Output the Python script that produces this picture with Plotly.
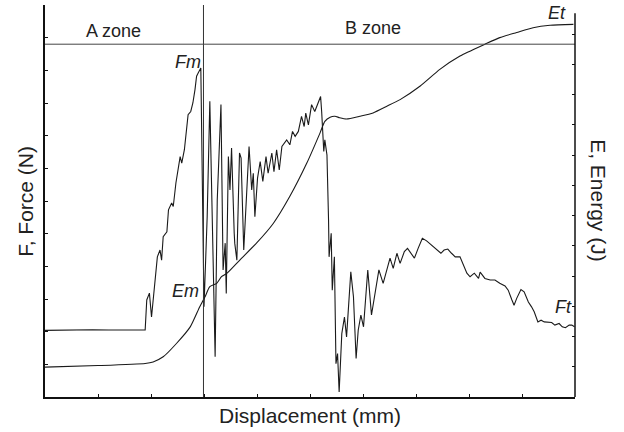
import plotly.graph_objects as go

# Force curve (left axis)
force_x = [0.00, 0.30, 0.60, 0.90, 1.20, 1.50, 1.89, 1.92, 1.97, 2.01, 2.06, 2.12, 2.17, 2.20, 2.23, 2.30,
           2.33, 2.39, 2.42, 2.47, 2.55, 2.58, 2.63, 2.67, 2.70, 2.75, 2.79, 2.83, 2.86, 2.89, 2.94,
           3.00, 3.06, 3.11, 3.21, 3.25, 3.32, 3.36, 3.40, 3.42, 3.46, 3.49, 3.52, 3.57, 3.58, 3.62,
           3.67, 3.70, 3.75, 3.85, 3.90, 3.93, 3.96, 4.01, 4.06, 4.11, 4.17, 4.21, 4.28, 4.32, 4.37,
           4.42, 4.47, 4.56, 4.62, 4.67, 4.72, 4.78, 4.84, 4.89, 4.92, 4.97, 5.03, 5.09, 5.18, 5.20,
           5.22, 5.24, 5.26, 5.28, 5.32, 5.35, 5.36, 5.40, 5.42, 5.46, 5.49, 5.52, 5.55, 5.60, 5.65,
           5.69, 5.77, 5.82, 5.87, 5.91, 5.96, 6.01, 6.09, 6.16, 6.30, 6.38, 6.47, 6.51, 6.57, 6.64,
           6.70, 6.78, 6.84, 6.92, 6.97, 7.04, 7.12, 7.20, 7.33, 7.47, 7.53, 7.60, 7.67, 7.74, 7.83,
           7.96, 8.02, 8.10, 8.18, 8.21, 8.30, 8.40, 8.49, 8.58, 8.68, 8.74, 8.81, 8.85, 8.90, 8.98,
           9.04, 9.12, 9.18, 9.23, 9.30, 9.36, 9.42, 9.50, 9.56, 9.62, 9.70, 9.76, 9.82, 9.89, 9.94, 9.99]
force_y = [2.04, 2.05, 2.04, 2.06, 2.05, 2.06, 2.05, 2.97, 3.18, 2.45, 3.27, 4.29, 4.50, 4.19, 4.91, 5.06,
           5.73, 5.94, 5.83, 6.55, 7.36, 7.16, 7.57, 8.18, 8.64, 8.74, 9.00, 9.41, 9.82, 9.92, 10.07,
           2.76, 5.52, 9.05, 1.23, 6.03, 8.95, 3.89, 4.71, 3.17, 7.36, 6.34, 7.62, 5.01, 4.71, 4.19,
           7.47, 7.31, 4.50, 7.67, 6.34, 6.85, 5.52, 6.70, 7.21, 6.60, 7.36, 6.85, 7.47, 6.90, 7.57,
           6.95, 7.67, 7.87, 7.72, 8.13, 7.98, 8.13, 8.59, 8.28, 8.69, 8.33, 8.95, 8.74, 9.10, 9.20,
           8.74, 8.13, 7.52, 7.87, 7.41, 5.42, 4.29, 5.01, 3.27, 4.29, 1.02, 1.33, 0.15, 1.94, 2.45,
           1.84, 3.83, 3.07, 1.18, 2.05, 2.51, 2.15, 3.89, 2.51, 3.89, 3.48, 3.99, 4.25, 3.94, 4.40,
           4.09, 4.45, 4.55, 4.35, 4.25, 4.55, 4.86, 4.78, 4.60, 4.40, 4.50, 4.53, 4.40, 4.29, 4.29,
           3.79, 3.68, 3.79, 3.63, 3.82, 3.63, 3.58, 3.58, 3.48, 3.40, 3.27, 2.97, 2.81, 3.02, 3.29,
           3.22, 2.91, 2.76, 2.61, 2.30, 2.35, 2.30, 2.28, 2.28, 2.20, 2.25, 2.15, 2.12, 2.20, 2.20, 2.15]

# Energy curve (right axis)
energy_x = [0.00, 1.00, 1.89, 2.04, 2.23, 2.48, 2.74, 2.92, 3.02, 3.11, 3.24, 3.33, 3.43, 3.68, 3.99,
            4.31, 4.62, 4.94, 5.19, 5.28, 5.38, 5.47, 5.56, 5.69, 5.94, 6.19, 6.45, 6.70, 7.08, 7.45,
            7.83, 8.30, 8.58, 8.90, 9.21, 9.53, 9.97]
energy_y = [0.99, 1.04, 1.11, 1.16, 1.33, 1.77, 2.32, 2.99, 3.32, 3.65, 3.76, 3.98, 4.09, 4.54, 5.09,
            5.75, 6.64, 7.74, 8.74, 9.12, 9.26, 9.29, 9.24, 9.20, 9.29, 9.40, 9.62, 9.84, 10.29, 10.84,
            11.28, 11.67, 11.89, 12.06, 12.22, 12.30, 12.33]

zone_boundary_x = 2.99
zone_line_y = 10.8

labels = [("A zone", 1.30, 11.2, False), ("B zone", 6.19, 11.3, False),
          ("Fm", 2.70, 10.25, True), ("Em", 2.66, 3.25, True),
          ("Et", 9.66, 11.75, True), ("Ft", 9.79, 2.75, True)]

font_family = "Liberation Sans, Arial, sans-serif"
ink = "#1a1a1a"

fig = go.Figure()
fig.add_trace(go.Scatter(x=force_x, y=force_y, mode="lines",
                         line=dict(color=ink, width=1.1), showlegend=False))
fig.add_trace(go.Scatter(x=energy_x, y=energy_y, mode="lines", yaxis="y2",
                         line=dict(color=ink, width=1.1, shape="spline", smoothing=0.6),
                         showlegend=False))

annotations = []
for txt, xv, yv, ital in labels:
    annotations.append(dict(x=xv, y=yv, xref="x", yref="y",
                            text=f"<i>{txt}</i>" if ital else txt, showarrow=False,
                            font=dict(size=18, color="#222", family=font_family)))
annotations += [
    dict(x=0.5, y=-0.046, xref="paper", yref="paper", text="Displacement (mm)", showarrow=False,
         xanchor="center", yanchor="middle", font=dict(size=21, color="#222", family=font_family)),
    dict(x=-0.038, y=0.5, xref="paper", yref="paper", text="F, Force (N)", showarrow=False,
         textangle=-90, xanchor="center", yanchor="middle",
         font=dict(size=21, color="#222", family=font_family)),
    dict(x=1.045, y=0.5, xref="paper", yref="paper", text="E, Energy (J)", showarrow=False,
         textangle=90, xanchor="center", yanchor="middle",
         font=dict(size=21, color="#222", family=font_family)),
]

shapes = [
    dict(type="line", xref="x", yref="paper", x0=zone_boundary_x, x1=zone_boundary_x, y0=0, y1=1,
         line=dict(color="#333", width=1)),
    dict(type="line", xref="paper", yref="y", x0=0, x1=1, y0=zone_line_y, y1=zone_line_y,
         line=dict(color="#444", width=1)),
    dict(type="line", xref="paper", yref="y2", x0=1, x1=1, y0=0, y1=12.7,
         line=dict(color="#111", width=1.5)),
]

axis_common = dict(showgrid=False, zeroline=False, showticklabels=False, ticks="inside",
                   ticklen=3, tickcolor="#111", tickwidth=1)

fig.update_layout(
    width=624, height=432,
    margin=dict(l=45, r=49, t=5, b=35),
    paper_bgcolor="white", plot_bgcolor="white",
    xaxis=dict(range=[0, 10], dtick=1, tick0=0, showline=True, linecolor="#111", linewidth=1.5,
               **axis_common),
    yaxis=dict(range=[0, 12], dtick=1, tick0=0, showline=True, linecolor="#111", linewidth=1.5,
               **axis_common),
    yaxis2=dict(range=[0, 12.97], dtick=1, tick0=0, overlaying="y", side="right", showline=False,
                **axis_common),
    annotations=annotations,
    shapes=shapes,
    showlegend=False,
)

fig.write_html("out.html")
